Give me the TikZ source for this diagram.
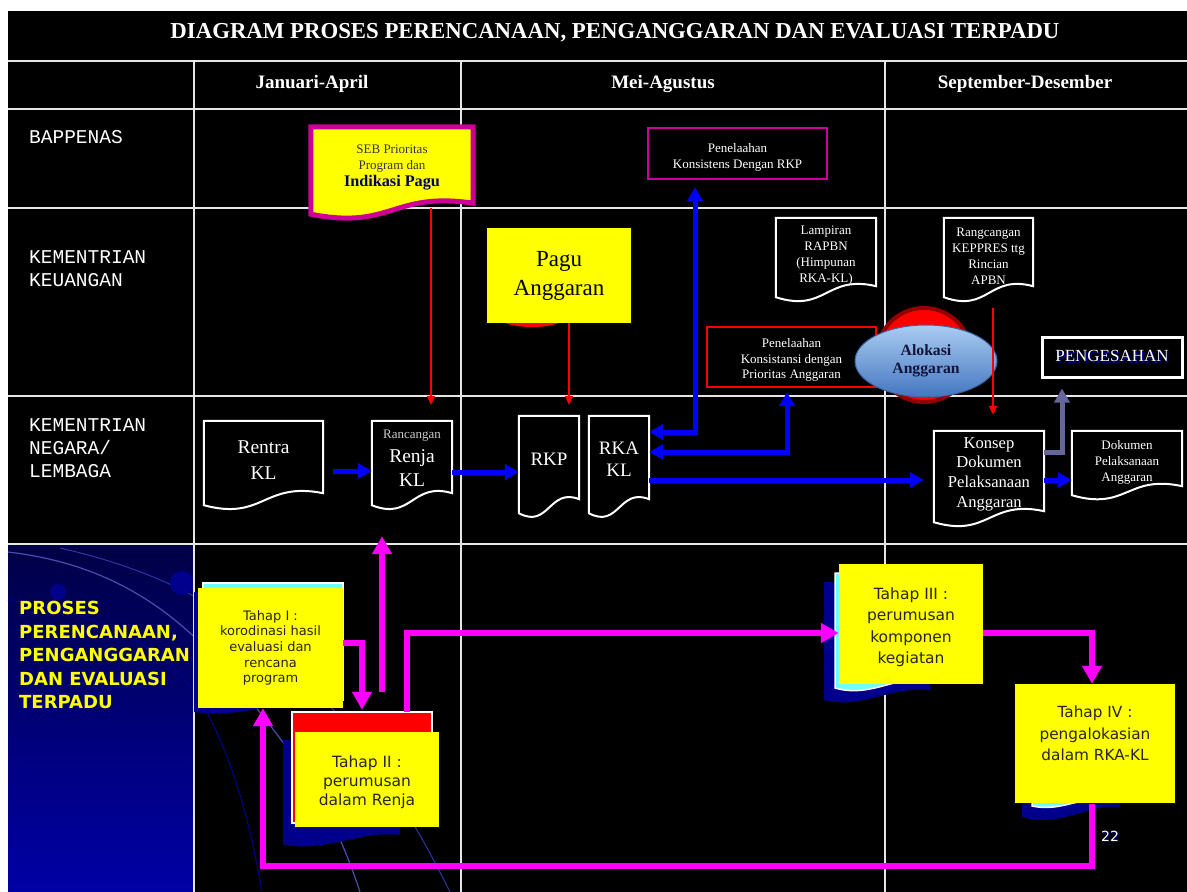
\documentclass[tikz,border=0pt]{standalone}
\usepackage{fontspec}
\setmainfont{Liberation Serif}
\newfontfamily\sansf{DejaVu Sans}
\newfontfamily\monof{Liberation Mono}
\usetikzlibrary{arrows.meta,calc,shapes.geometric}
\pgfdeclarelayer{back}
\pgfdeclarelayer{docs}
\pgfsetlayers{back,docs,main}
\definecolor{magB}{RGB}{204,0,153}
\definecolor{magA}{RGB}{255,0,255}
\definecolor{bluA}{RGB}{0,0,255}
\definecolor{slate}{RGB}{102,102,153}
\definecolor{navyT}{RGB}{0,0,102}
\definecolor{navyS}{RGB}{0,0,140}
\definecolor{cyanS}{RGB}{110,255,255}
\definecolor{yel}{RGB}{255,255,0}
\definecolor{gridc}{RGB}{230,230,230}
\definecolor{alok}{RGB}{20,20,60}
\definecolor{sebgray}{RGB}{50,50,80}
\newcommand\fs[2]{\fontsize{#1}{#2}\selectfont}
% document outline: node, style, wave drop, text shift
\newcommand\docline[4]{\path[#2] ($(#1.north west)+(0,-#4)$) -- ($(#1.north east)+(0,-#4)$) -- ($(#1.south east)+(0,-#4)$)
  .. controls ($(#1.south)+(0,-12-#4)$) and ($(#1.south)+(0,#3+16-#4)$) .. ($(#1.south west)+(0,#3-#4)$) -- cycle;}
% plain box outline/fill shifted up relative to its text
\newcommand\boxline[3]{\path[#2] ($(#1.north west)+(0,-#3)$) rectangle ($(#1.south east)+(0,-#3)$);}
\begin{document}
\begin{tikzpicture}[x=1pt,y=-1pt,
  docT/.style={rectangle, inner sep=0pt, align=center, text=white},
  yelT/.style={rectangle, inner sep=0pt, align=center, text=black!85, font=\sansf},
  hdr/.style={text=white, font=\bfseries\fs{19}{22}},
  lbl/.style={text=white, font=\monof\fs{19.5}{23}, align=left, anchor=west, inner sep=0pt},
  bluearr/.style={draw=bluA, line width=5pt, -{Triangle[length=14pt,width=15pt]}},
  bluedbl/.style={draw=bluA, line width=5pt, {Triangle[length=14pt,width=15pt]}-{Triangle[length=14pt,width=15pt]}},
  redarr/.style={draw=red, line width=2pt, -{Triangle[length=9pt,width=8pt]}},
  magarr/.style={draw=magA, line width=6.5pt, -{Triangle[length=18pt,width=19pt]}},
  slatearr/.style={draw=slate, line width=5pt, -{Triangle[length=14pt,width=15pt]}},
  gridl/.style={draw=gridc, line width=1.6pt}]
\useasboundingbox (0,0) rectangle (1187,892);

\begin{pgfonlayer}{back}
\fill[white] (0,0) rectangle (1187,892);
\fill[black] (8,11) rectangle (1187,892);
\shade[top color={rgb,255:red,0;green,0;blue,70}, bottom color={rgb,255:red,0;green,0;blue,165}] (8,544) rectangle (194,892);
\draw[navyS!70!white, line width=1.2pt] (8,552) .. controls (120,565) and (190,620) .. (250,700) .. controls (290,750) and (330,800) .. (360,892);
\draw[navyS, line width=1pt] (8,600) .. controls (100,612) and (170,650) .. (200,700) .. controls (230,750) and (250,820) .. (262,892);
\draw[navyS!80!white, line width=1pt] (60,548) .. controls (200,580) and (330,650) .. (450,892);
\fill[navyS] (182,583) circle[radius=12pt];
\fill[navyS] (58,592) circle[radius=8pt];
\foreach \yy in {61,109,208,396,544} \draw[gridl] (8,\yy) -- (1187,\yy);
\foreach \xx in {194,461,885} \draw[gridl] (\xx,61) -- (\xx,892);
\end{pgfonlayer}

% title and headers
\node[text=white, font=\bfseries\fs{22.8}{26}] (title) at (615,33) {DIAGRAM PROSES PERENCANAAN, PENGANGGARAN DAN EVALUASI TERPADU};
\node[hdr] (h1) at (312,84) {Januari-April};
\node[hdr] (h2) at (663,84) {Mei-Agustus};
\node[hdr] (h3) at (1025,84) {September-Desember};
\node[lbl] (l1) at (29,137.5) {BAPPENAS};
\node[lbl] (l2) at (29,268.5) {KEMENTRIAN\\KEUANGAN};
\node[lbl] (l3) at (29,448) {KEMENTRIAN\\NEGARA/\\LEMBAGA};
\node[text=yel, font=\sansf\bfseries\fs{18}{23.5}, align=left, anchor=west, inner sep=0pt] (proses) at (19,655)
  {PROSES\\PERENCANAAN,\\PENGANGGARAN\\DAN EVALUASI\\TERPADU};

% upper nodes (text frames; outlines drawn on the docs layer)
\node[docT, minimum width=162pt, minimum height=76pt, font=\fs{13}{16}] (seb) at (392,167)
  {{\color{sebgray}SEB Prioritas}\\{\color{sebgray}Program dan}\\[1pt]{\fs{16.2}{18}\bfseries\color{navyT}Indikasi Pagu}};
\node[rectangle, inner sep=0pt, align=center, fill=yel, text=black, minimum width=144pt, minimum height=95pt, font=\fs{23}{29}] (pagu) at (559,275.5) {Pagu\\Anggaran};
\node[docT, minimum width=179pt, minimum height=51pt, font=\fs{13}{16}] (penrkp) at (737.5,157.5) {Penelaahan\\Konsistens Dengan RKP};
\node[docT, minimum width=100pt, minimum height=68pt, font=\fs{13}{16}] (lampiran) at (826,256) {Lampiran\\RAPBN\\(Himpunan\\RKA-KL)};
\node[docT, minimum width=89pt, minimum height=68pt, font=\fs{13}{16}] (rancang) at (988.5,256) {Rangcangan\\KEPPRES ttg\\Rincian\\APBN};
\node[docT, minimum width=169pt, minimum height=60pt, font=\fs{13}{15.5}] (penkons) at (791.5,360) {Penelaahan\\Konsistansi dengan\\Prioritas Anggaran};
\node[ellipse, inner sep=0pt, minimum width=142pt, minimum height=72pt, align=center,
  top color={rgb,255:red,170;green,204;blue,242}, bottom color={rgb,255:red,68;green,118;blue,192},
  draw={rgb,255:red,60;green,100;blue,160}, line width=1pt, text=alok, font=\bfseries\fs{15.7}{18.5}] (alokasi) at (926,361) {Alokasi\\Anggaran};
\node[docT, draw=white, line width=3pt, fill=black, minimum width=140pt, minimum height=40pt, font=\fs{17}{20}] (pengesahan) at (1112,357)
  {\makebox[0pt][l]{\kern1.5pt\raisebox{-1.5pt}{\color{navyS}PENGESAHAN}}PENGESAHAN};

% K/L row documents
\node[docT, minimum width=119pt, minimum height=72pt, font=\fs{19.5}{26}] (rentra) at (263.5,460) {Rentra\\KL};
\node[docT, minimum width=80pt, minimum height=72pt, font=\fs{19.5}{24}] (renja) at (412,458) {{\fs{13}{15}\color{white!80!black}Rancangan}\\Renja\\KL};
\node[docT, minimum width=60pt, minimum height=83pt, font=\fs{19}{22}] (rkp) at (549,459.5) {RKP};
\node[docT, minimum width=60pt, minimum height=83pt, font=\fs{19}{22}] (rka) at (619,459.5) {RKA\\KL};
\node[docT, minimum width=110pt, minimum height=80pt, font=\fs{16.6}{19.7}] (konsep) at (989,474) {Konsep\\Dokumen\\Pelaksanaan\\Anggaran};
\node[docT, minimum width=110pt, minimum height=55pt, font=\fs{13}{16}] (dokpel) at (1127,462.5) {Dokumen\\Pelaksanaan\\Anggaran};

% tahap boxes (yellow fill drawn on the docs layer)
\node[yelT, minimum width=145pt, minimum height=120pt, font=\sansf\fs{13}{15.6}] (tahap1) at (270.5,648) {Tahap I :\\korodinasi hasil\\evaluasi dan\\rencana\\program};
\node[yelT, minimum width=144pt, minimum height=95pt, font=\sansf\fs{15.5}{19}] (tahap2) at (367,782) {Tahap II :\\perumusan\\dalam Renja};
\node[yelT, minimum width=144pt, minimum height=120pt, font=\sansf\fs{15.5}{21.5}] (tahap3) at (911,627) {Tahap III :\\perumusan\\komponen\\kegiatan};
\node[yelT, minimum width=160pt, minimum height=119pt, font=\sansf\fs{15.3}{21.5}] (tahap4) at (1095,744) {Tahap IV :\\pengalokasian\\dalam RKA-KL\\~};
\node[text=white, font=\sansf\fs{14}{16}, inner sep=0pt] (pg) at (1110,837)
  {\makebox[0pt][l]{\kern1pt\raisebox{-1pt}{\color{navyS}22}}22};

% outlines and stacks behind
\begin{pgfonlayer}{docs}
\docline{seb}{fill=yel, draw=magB, line width=5pt, line join=miter}{11}{2}
\fill[red] (532,318) ellipse[x radius=32pt, y radius=9pt];
\boxline{penrkp}{fill=black, draw=magB, line width=2.5pt}{4}
\docline{lampiran}{fill=black, draw=white, line width=2pt}{11}{4}
\docline{rancang}{fill=black, draw=white, line width=2pt}{11}{4}
\boxline{penkons}{fill=black, draw=red, line width=2pt}{3}
\fill[red, draw={rgb,255:red,150;green,0;blue,0}, line width=4pt] (924,355) circle[radius=47pt];
\docline{rentra}{fill=black, draw=white, line width=2pt}{12}{3}
\docline{renja}{fill=black, draw=white, line width=2pt}{12}{1}
\docline{rkp}{fill=black, draw=white, line width=2pt}{14}{2}
\docline{rka}{fill=black, draw=white, line width=2pt}{14}{2}
\docline{konsep}{fill=black, draw=white, line width=2pt}{11}{3}
\docline{dokpel}{fill=black, draw=white, line width=2pt}{9}{4}
% stacks behind tahap boxes
\path[fill=navyS] (194,592) -- (330,592) -- (330,700) .. controls (280,695) and (250,720) .. (194,712) -- cycle;
\path[fill=cyanS, draw=white, line width=1.5pt] (203,583) rectangle (343,700);
\path[fill=navyS] (283,740) -- (400,740) -- (400,835) .. controls (360,830) and (330,852) .. (283,845) -- cycle;
\path[fill=red, draw=white, line width=2pt] (292,712) rectangle (432,823);
\path[fill=navyS] (824,582) -- (930,582) -- (930,690) .. controls (890,686) and (860,710) .. (824,700) -- cycle;
\path[fill=cyanS, draw=white, line width=1.5pt] (835,573) -- (925,573) -- (925,680) .. controls (895,676) and (870,698) .. (835,688) -- cycle;
\path[fill=navyS] (1022,780) -- (1120,780) -- (1120,807) .. controls (1090,803) and (1060,828) .. (1022,817) -- cycle;
\path[fill=cyanS, draw=white, line width=1.5pt] (1032,780) -- (1100,780) -- (1100,800) .. controls (1080,797) and (1060,812) .. (1032,806) -- cycle;
\boxline{tahap1}{fill=yel}{0}
\boxline{tahap2}{fill=yel}{2.5}
\boxline{tahap3}{fill=yel}{3}
\boxline{tahap4}{fill=yel}{0.5}
\end{pgfonlayer}

% red connectors
\coordinate (r1) at (431,208);
\draw[redarr, shorten >=17pt] (r1) -- (r1 |- renja.north);
\coordinate (r2) at (569,323);
\draw[redarr, shorten >=13pt] (r2) -- (r2 |- rkp.north);
\coordinate (r3) at (993,308);
\draw[redarr, shorten >=19pt] (r3) -- (r3 |- konsep.north);

% blue connectors
\draw[bluearr, shorten <=10pt] ([yshift=-11pt]rentra.east) -- ([yshift=-13pt]renja.west);
\draw[bluearr] ([yshift=-14pt]renja.east) -- ([yshift=-12.5pt]rkp.west);
\coordinate (b1) at (695,432);
\draw[bluedbl, shorten >=4pt] (rka.east |- b1) -- (b1) -- (b1 |- penrkp.south);
\coordinate (b2) at (787,452);
\draw[bluedbl, shorten >=2pt] (rka.east |- b2) -- (b2) -- (b2 |- penkons.south);
\coordinate (b3) at (650,480);
\draw[bluearr, shorten >=10pt] (rka.east |- b3) -- (konsep.west |- b3);
\draw[bluearr] (konsep.east |- b3) -- (dokpel.west |- b3);
\coordinate (s1) at (1062,452);
\draw[slatearr, shorten >=10pt] (konsep.east |- s1) -- (s1) -- (s1 |- pengesahan.south);

% magenta connectors
\coordinate (m1) at (362,643);
\draw[magarr, shorten >=24.5pt] (tahap1.east |- m1) -- (m1) -- (m1 |- tahap2.north);
\coordinate (m2) at (382,692);
\draw[magarr, shorten >=42pt] (m2) -- (m2 |- renja.south);
\coordinate (m3) at (407,633);
\draw[magarr, shorten <=22.5pt] (m3 |- tahap2.north) -- (m3) -- (tahap3.west |- m3);
\coordinate (m4) at (1092,633);
\draw[magarr, shorten >=0.5pt] (tahap3.east |- m4) -- (m4) -- (m4 |- tahap4.north);
\coordinate (m5) at (1092,866);
\coordinate (m6) at (263,866);
\draw[magarr] (m5 |- tahap4.south) -- (m5) -- (m6) -- (m6 |- tahap1.south);
\end{tikzpicture}
\end{document}
